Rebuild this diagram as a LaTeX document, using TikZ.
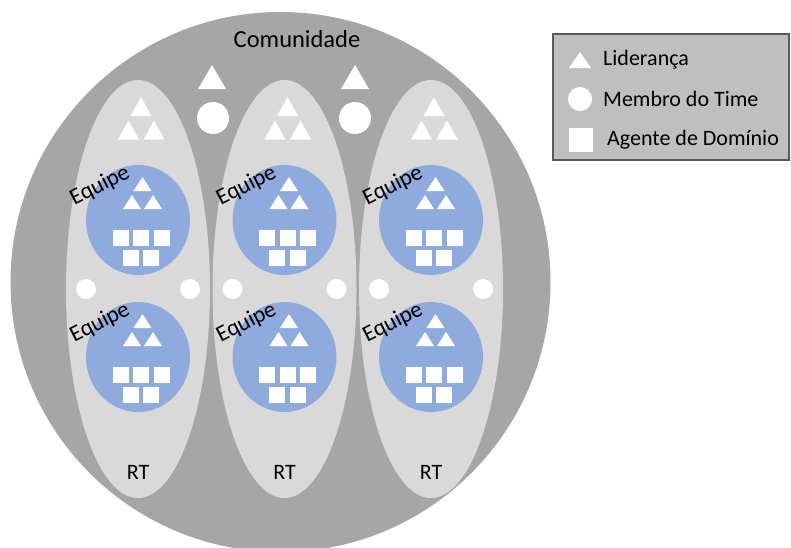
\documentclass[tikz,border=0pt]{standalone}
\usepackage{fontspec}
\setmainfont{Carlito}
\definecolor{commgray}{HTML}{A6A6A6}
\definecolor{rtgray}{HTML}{D9D9D9}
\definecolor{teamblue}{HTML}{8FAADC}
\definecolor{legendgray}{HTML}{BFBFBF}
\definecolor{legendedge}{HTML}{595959}
% triangle pointing up, centred at (#1,#2), base width #3, height #4
\newcommand{\uptri}[4]{\fill[white] (#1-#3/2,#2+#4/2) -- (#1+#3/2,#2+#4/2) -- (#1,#2-#4/2) -- cycle;}
% white square centred at (#1,#2) with side #3
\newcommand{\wsq}[3]{\fill[white] (#1-#3/2,#2-#3/2) rectangle (#1+#3/2,#2+#3/2);}
\tikzset{
  lbl/.style={font=\fontsize{22}{26}\selectfont, text=black, inner sep=0pt},
  team/.pic={
    \fill[teamblue] (0,0) ellipse [x radius=52, y radius=55];
    \uptri{4.5}{-36}{18}{14}
    \uptri{-6}{-18}{18}{14}
    \uptri{15}{-18}{18}{14}
    \wsq{-17.5}{17.5}{16}
    \wsq{3}{17.5}{16}
    \wsq{23.5}{17.5}{16}
    \wsq{-7.5}{38}{16}
    \wsq{13}{38}{16}
    \node[lbl, font=\fontsize{23}{27}\selectfont, rotate=27] at (-38,-34) {Equipe};
  },
  rt/.pic={
    \fill[rtgray] (0,0) ellipse [x radius=72, y radius=209];
    \uptri{3}{-182.5}{21}{19}
    \uptri{-9.5}{-159}{21}{19}
    \uptri{16}{-159}{21}{19}
    \fill[white] (-52,0) circle (10);
    \fill[white] (52,0) circle (10);
  }
}
\begin{document}
\begin{tikzpicture}[x=1pt,y=-1pt]
  \useasboundingbox (0,0) rectangle (791,547);
  \begin{scope}
    \clip (0,0) rectangle (791,547);
    % community
    \fill[commgray] (280.5,282) circle (270);
  \end{scope}
  \node[lbl, font=\fontsize{24.5}{28}\selectfont] (comunidade) at (297,39) {Comunidade};
  % leadership and members between the RTs
  \uptri{212}{77}{28}{24}
  \uptri{355}{77}{28}{24}
  \fill[white] (213,118) circle (16);
  \fill[white] (355,118) circle (16);
  % three RTs with two teams each
  \foreach \cx/\nm in {138/a,284.5/b,431/c}{
    \pic at (\cx,289) {rt};
    \pic at (\cx,220) {team};
    \pic at (\cx,357) {team};
    \node[lbl] (rt\nm) at (\cx,472) {RT};
  }
  % legend
  \draw[fill=legendgray, draw=legendedge, line width=1.2pt] (553,34) rectangle (789,160);
  \uptri{580}{60}{22}{16}
  \fill[white] (580,99) circle (12);
  \wsq{581}{140}{24}
  \node[lbl, anchor=west] (lid) at (603,60) {Liderança};
  \node[lbl, anchor=west] (mem) at (603,99) {Membro do Time};
  \node[lbl, anchor=west] (age) at (607,140) {Agente de Domínio};
\end{tikzpicture}
\end{document}
